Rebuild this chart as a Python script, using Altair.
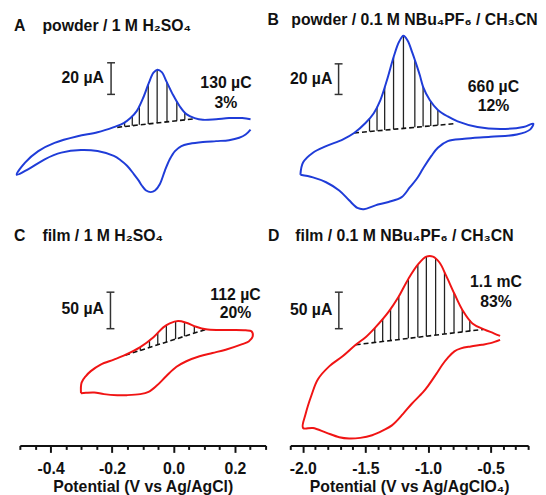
import altair as alt
import pandas as pd

FONT = "Liberation Sans"
BLUE = "#1f3cd8"
RED = "#f01414"
INK = "#111111"

# ---------------- Panel A : powder / 1 M H2SO4 ----------------
A_V = [0.251, 0.235, 0.214, 0.181, 0.139, 0.096, 0.053, 0.026, 0.005, -0.012, -0.028, -0.044, -0.060,
       -0.074, -0.089, -0.103, -0.113, -0.129, -0.151, -0.172, -0.194, -0.247, -0.301, -0.365, -0.419,
       -0.472, -0.510,
       -0.483, -0.440, -0.387, -0.312, -0.247, -0.194, -0.162, -0.140, -0.119, -0.097, -0.081, -0.065,
       -0.052, -0.038, -0.022, -0.001, 0.021, 0.042, 0.069, 0.096, 0.139, 0.181, 0.224, 0.251]
A_I = [-8.1, -11.25, -13.3, -14.8, -15.4, -16.0, -17.1, -18.5, -21.7, -26.9, -34.2, -42.5, -46.7,
       -47.7, -46.7, -43.5, -40.4, -36.25, -31.0, -27.5, -24.8, -21.7, -21.0, -22.7, -26.9,
       -33.1, -36.7,
       -29.0, -21.7, -16.5, -12.3, -9.8, -6.5, -4.0, -0.8, 3.75, 12.7, 21.0, 27.9,
       29.8, 28.3, 22.1, 13.75, 6.5, 1.7, -0.8, -1.9, -1.5, -0.8, -0.8, -1.5]
A_HATCH_V = [-0.159, -0.134, -0.111, -0.082, -0.053, -0.021, 0.011, 0.037]
A_HATCH_TOP = [-3.6, 0.5, 7.0, 20.5, 29.8, 22.1, 9.8, 2.8]
A_HATCH_BOT = [-6.2, -5.6, -5.1, -4.5, -3.9, -3.2, -2.5, -1.9]
A_BASE_V = [-0.183, 0.069]
A_BASE_I = [-6.7, -1.25]
A_BAR_V = -0.203
A_BAR_I = [34.2, 14.2]
A_BAR_LABEL = ["20 µA", -0.226, 24.4]
A_NOTES = [["130 µC", 0.171, 21.1], ["3%", 0.171, 8.6]]

# ---------------- Panel B : powder / 0.1 M NBu4PF6 / CH3CN ----------------
B_V = [-2.019, -1.998, -1.919, -1.814, -1.682, -1.590, -1.499, -1.433, -1.380, -1.328, -1.275, -1.231,
       -1.196, -1.162, -1.126, -1.099, -1.065, -1.039, -0.986, -0.921, -0.842, -0.763, -0.605, -0.422,
       -0.238, -0.159,
       -0.185, -0.290, -0.500, -0.710, -0.842, -0.921, -0.973, -1.039, -1.091, -1.144, -1.210, -1.315,
       -1.420, -1.512, -1.564, -1.630, -1.709, -1.814, -1.919, -2.019]
B_I = [-39.5, -31.5, -25.1, -20.8, -16.5, -12.2, -5.7, 0.75, 9.35, 22.3, 37.3, 47.4,
       51.3, 48.1, 40.5, 34.1, 25.5, 18.0, 9.35, 2.9, -1.4, -4.6, -8.3, -9.6,
       -8.3, -6.1,
       -10.0, -13.2, -14.7, -16.0, -17.5, -21.8, -27.2, -35.4, -42.3, -47.6, -54.1, -57.3,
       -59.5, -62.0, -61.2, -56.2, -49.8, -44.4, -41.2, -39.5]
B_HATCH_V = [-1.467, -1.407, -1.346, -1.275, -1.196, -1.105, -1.039, -0.978, -0.921]
B_HATCH_TOP = [-2.6, 5.0, 17.8, 37.3, 51.3, 35.5, 18.0, 8.6, 2.9]
B_HATCH_BOT = [-11.2, -10.8, -10.3, -9.8, -9.2, -8.5, -8.0, -7.6, -7.1]
B_BASE_V = [-1.590, -0.789]
B_BASE_I = [-12.2, -6.1]
B_BAR_V = -1.714
B_BAR_I = [33.0, 13.0]
B_BAR_LABEL = ["20 µA", -1.764, 23.35]
B_NOTES = [["660 µC", -0.477, 17.5], ["12%", -0.477, 5.5]]

# ---------------- Panel C : film / 1 M H2SO4 ----------------
C_V = [-0.301, -0.299, -0.285, -0.269, -0.237, -0.194, -0.162, -0.108, -0.065, -0.033, -0.012, 0.015,
       0.042, 0.074, 0.106, 0.149, 0.192, 0.235, 0.254, 0.258, 0.245, 0.224, 0.170, 0.127, 0.085, 0.042,
       0.010, -0.023, -0.055, -0.081, -0.108, -0.151, -0.183, -0.226, -0.258, -0.285, -0.301]
C_I = [-98.7, -84.2, -75.2, -68.5, -59.5, -52.7, -47.3, -35.6, -22.1, -8.6, -3.2, 0.0,
       -2.3, -7.7, -11.3, -12.2, -12.2, -12.6, -14.0, -21.2, -27.9, -31.5, -39.2, -43.7, -48.2, -55.0,
       -62.6, -75.2, -88.7, -96.9, -100.0, -101.4, -101.4, -100.0, -97.8, -98.2, -98.7]
C_HATCH_V = [-0.108, -0.078, -0.051, -0.023, 0.007, 0.036, 0.068, 0.095]
C_HATCH_TOP = [-35.6, -26.2, -16.2, -6.0, -1.0, -1.8, -6.7, -10.1]
C_HATCH_BOT = [-40.3, -36.3, -32.6, -28.7, -24.6, -20.7, -16.4, -12.7]
C_BASE_V = [-0.157, 0.106]
C_BASE_I = [-46.8, -11.3]
C_BAR_V = -0.205
C_BAR_I = [39.6, -10.4]
C_BAR_LABEL = ["50 µA", -0.226, 16.2]
C_NOTES = [["112 µC", 0.202, 35.1], ["20%", 0.202, 10.4]]
C_TICKS = [-0.5, -0.45, -0.4, -0.35, -0.3, -0.25, -0.2, -0.15, -0.1, -0.05, 0.0,
           0.05, 0.1, 0.15, 0.2, 0.25, 0.3]

# ---------------- Panel D : film / 0.1 M NBu4PF6 / CH3CN ----------------
D_V = [-0.424, -0.500, -0.569, -0.658, -0.737, -0.789, -0.842, -0.884, -0.936, -0.999, -1.041, -1.131,
       -1.199, -1.288, -1.357, -1.446, -1.541, -1.630, -1.709, -1.814, -1.919, -1.998,
       -1.977, -1.932, -1.879, -1.787, -1.682, -1.577, -1.498, -1.420, -1.315, -1.236, -1.157, -1.078,
       -1.013, -0.960, -0.908, -0.855, -0.789, -0.724, -0.645, -0.553, -0.474, -0.424]
D_I = [-25.7, -30.2, -32.4, -34.7, -37.4, -41.4, -50.4, -59.4, -73.0, -88.7, -97.7, -113.5,
       -127.0, -142.8, -149.5, -156.3, -159.9, -160.8, -159.0, -152.7, -146.4, -146.4,
       -127.0, -102.2, -79.7, -61.7, -48.2, -32.4, -22.1, -8.6, 12.6, 32.9, 57.7, 77.9,
       88.3, 88.3, 80.2, 62.2, 37.4, 14.9, -3.2, -11.3, -16.7, -20.3]
D_HATCH_V = [-1.425, -1.362, -1.299, -1.233, -1.157, -1.081, -1.013, -0.939, -0.868, -0.792, -0.726, -0.666]
D_HATCH_TOP = [-9.5, 3.1, 16.7, 33.8, 57.7, 77.1, 88.3, 85.0, 66.6, 38.5, 15.6, 1.6]
D_HATCH_BOT = [-29.3, -27.9, -26.6, -25.2, -23.6, -22.1, -20.7, -19.1, -17.6, -16.0, -14.6, -13.4]
D_BASE_V = [-1.577, -0.558]
D_BASE_I = [-32.4, -11.3]
D_BAR_V = -1.712
D_BAR_I = [39.6, -10.4]
D_BAR_LABEL = ["50 µA", -1.764, 14.9]
D_NOTES = [["1.1 mC", -0.457, 53.1], ["83%", -0.457, 26.1]]
D_TICKS = [-2.1, -2.0, -1.9, -1.8, -1.7, -1.6, -1.5, -1.4, -1.3, -1.2, -1.1, -1.0,
           -0.9, -0.8, -0.7, -0.6, -0.5, -0.4, -0.3, -0.2]

TITLES = {
    "A": "A\u2003\u200apowder / 1 M H\u2082SO\u2084",
    "B": "B\u2002 powder / 0.1 M NBu\u2084PF\u2086 / CH\u2083CN",
    "C": "C\u2003\u200afilm / 1 M H\u2082SO\u2084",
    "D": "D\u2003film / 0.1 M NBu\u2084PF\u2086 / CH\u2083CN",
}


def bottom_axis(ticks, step, title):
    test = f"abs(datum.value / {step} - round(datum.value / {step})) < 0.001"
    return alt.Axis(
        values=ticks, title=title, grid=False,
        labelExpr=f"{test} ? replace(format(datum.value, '.1f'), '\u2212', '-') : ''",
        tickSize={"condition": {"test": test, "value": 7}, "value": 4},
        tickWidth=2, tickColor=INK, domainWidth=2, domainColor=INK,
        labelFont=FONT, labelFontSize=16, labelFontWeight="bold", labelColor=INK,
        labelPadding=8, labelOverlap=False, labelFlush=False, labelBound=False,
        titleFont=FONT, titleFontSize=16, titleFontWeight="bold", titleColor=INK,
        titlePadding=3,
    )


def panel(cv, ci, hv, ht, hb, bv, bi, barv, bari, barlab, notes, color,
          xdom, ydom, w, h, title, dx, axis):
    sx = alt.Scale(domain=xdom, nice=False, zero=False)
    sy = alt.Scale(domain=ydom, nice=False, zero=False)
    X = alt.X("V:Q", scale=sx, axis=axis)
    Y = alt.Y("I:Q", scale=sy, axis=None)

    curve = alt.Chart(pd.DataFrame({"V": cv, "I": ci, "k": list(range(len(cv)))})).mark_line(
        color=color, strokeWidth=2, interpolate="catmull-rom").encode(x=X, y=Y, order="k:Q")
    hatch = alt.Chart(pd.DataFrame({"V": hv, "I": ht, "I2": hb})).mark_rule(
        color="#222222", strokeWidth=1.3).encode(x=X, y=Y, y2="I2:Q")
    base = alt.Chart(pd.DataFrame({"V": bv, "I": bi})).mark_line(
        color=INK, strokeWidth=1.6, strokeDash=[5, 3]).encode(x=X, y=Y)
    bar = alt.Chart(pd.DataFrame({"V": [barv], "I": [bari[0]], "I2": [bari[1]]})).mark_rule(
        color="#333333", strokeWidth=1.5).encode(x=X, y=Y, y2="I2:Q")
    caps = alt.Chart(pd.DataFrame({"V": [barv, barv], "I": bari})).mark_tick(
        orient="horizontal", size=8, thickness=1.5, color="#333333", opacity=1).encode(x=X, y=Y)
    lab = alt.Chart(pd.DataFrame({"t": [barlab[0]], "V": [barlab[1]], "I": [barlab[2]]})).mark_text(
        align="right", baseline="middle", font=FONT, fontSize=16, fontWeight="bold", color=INK
    ).encode(x=X, y=Y, text="t:N")
    nts = alt.Chart(pd.DataFrame({"t": [n[0] for n in notes], "V": [n[1] for n in notes],
                                  "I": [n[2] for n in notes]})).mark_text(
        align="center", baseline="middle", font=FONT, fontSize=16, fontWeight="bold", color=INK
    ).encode(x=X, y=Y, text="t:N")
    return alt.layer(hatch, base, curve, bar, caps, lab, nts).properties(
        width=w, height=h,
        title=alt.TitleParams(text=title, anchor="start", frame="group", dx=dx, offset=-9,
                              baseline="alphabetic", font=FONT, fontSize=16,
                              fontWeight="bold", color=INK),
    )


col1 = [-0.5, 0.3]
col2 = [-2.1, -0.2]
A = panel(A_V, A_I, A_HATCH_V, A_HATCH_TOP, A_HATCH_BOT, A_BASE_V, A_BASE_I, A_BAR_V, A_BAR_I,
          A_BAR_LABEL, A_NOTES, BLUE, col1, [-60, 50], 249, 176, TITLES["A"], -6, None)
B = panel(B_V, B_I, B_HATCH_V, B_HATCH_TOP, B_HATCH_BOT, B_BASE_V, B_BASE_I, B_BAR_V, B_BAR_I,
          B_BAR_LABEL, B_NOTES, BLUE, col2, [-63.55, 50], 241, 176, TITLES["B"], -23, None)
C = panel(C_V, C_I, C_HATCH_V, C_HATCH_TOP, C_HATCH_BOT, C_BASE_V, C_BASE_I, C_BAR_V, C_BAR_I,
          C_BAR_LABEL, C_NOTES, RED, col1, [-170.3, 100], 249, 200, TITLES["C"], -6,
          bottom_axis(C_TICKS, 0.2, "Potential (V vs Ag/AgCl)"))
D = panel(D_V, D_I, D_HATCH_V, D_HATCH_TOP, D_HATCH_BOT, D_BASE_V, D_BASE_I, D_BAR_V, D_BAR_I,
          D_BAR_LABEL, D_NOTES, RED, col2, [-170.3, 100], 241, 200, TITLES["D"], -22.5,
          bottom_axis(D_TICKS, 0.5, "Potential (V vs Ag/AgClO\u2084)"))

chart = alt.concat(A, B, C, D, columns=2, spacing={"row": 37, "column": 25}, bounds="flush").properties(
    padding={"left": 4, "top": 0, "right": 0, "bottom": 0}, background="white"
).configure_view(stroke=None)

chart.save("out.html", embed_options={"renderer": "svg", "actions": False})
